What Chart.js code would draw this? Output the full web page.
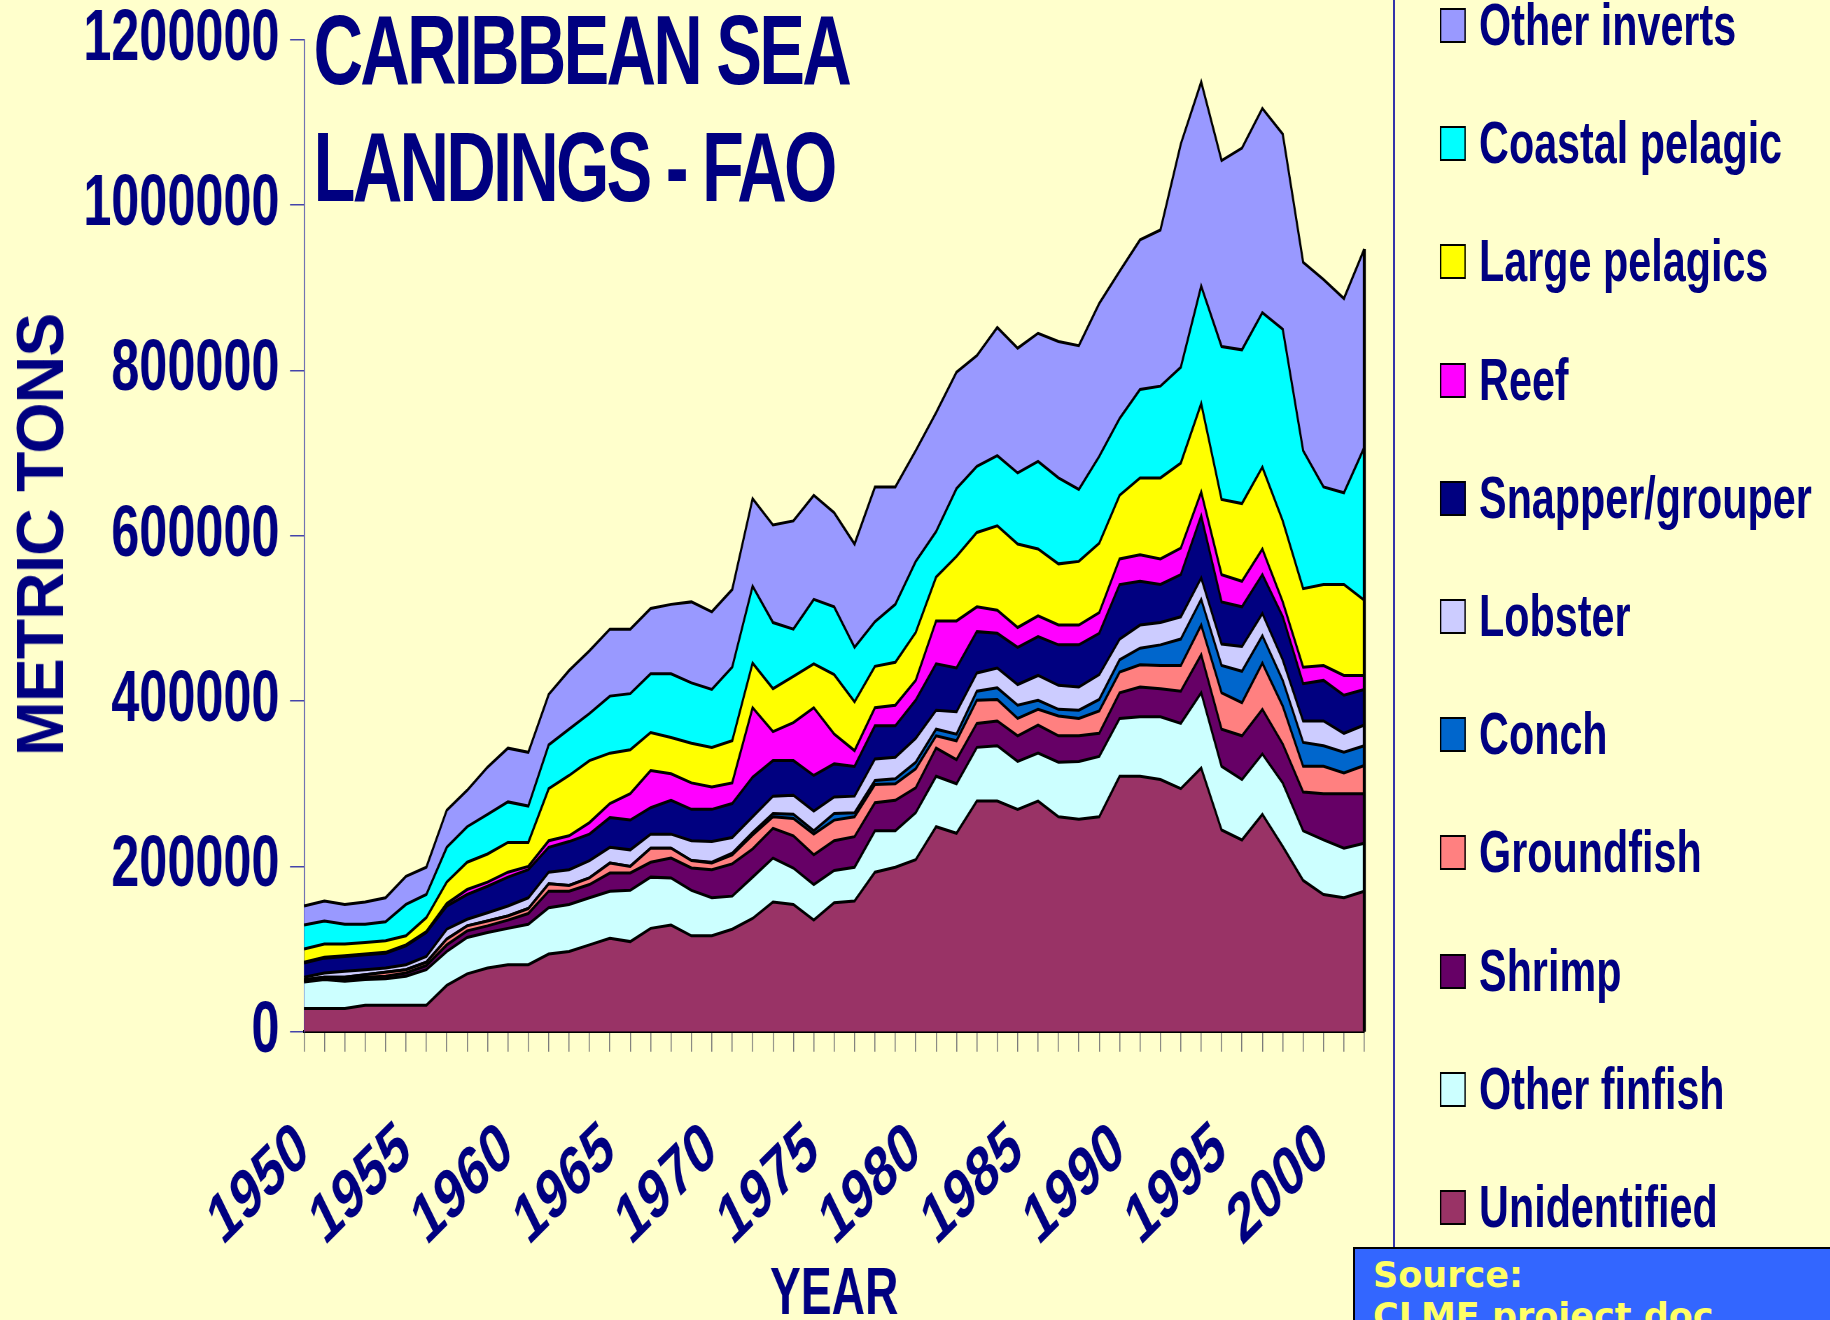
<!DOCTYPE html>
<html>
<head>
<meta charset="utf-8">
<title>Caribbean Sea landings - FAO</title>
<script src="https://cdn.jsdelivr.net/npm/chart.js@4.4.0/dist/chart.umd.min.js"></script>
<style>
  html, body { margin: 0; padding: 0; width: 1830px; height: 1320px; overflow: hidden; background: #ffffcc; }
  /* the original slide is squeezed sideways, so the chart is drawn wide and scaled down */
  #squeeze { position: absolute; left: 0; top: 0; width: 2614px; height: 1320px; transform: scaleX(0.7); transform-origin: 0 0; }
  #chart { position: absolute; left: 0; top: 0; }
  .title { position: absolute; left: 448px; font: bold 98px 'Liberation Sans', Arial, sans-serif; line-height: 1; letter-spacing: -4px; color: #000080; white-space: nowrap; }
  .leg { position: absolute; left: 2057px; height: 59px; font: bold 59px 'Liberation Sans', Arial, sans-serif; line-height: 59px; color: #000080; white-space: nowrap; }
  .leg .box { position: absolute; left: 0; top: 12px; width: 37px; height: 35px; border: 2px solid #000; box-sizing: border-box; }
  .leg .txt { position: absolute; left: 56px; top: 0; }
  #ytitle { position: absolute; left: 40px; top: 535px; transform: translate(-50%, -50%) rotate(-90deg); font: bold 66px 'Liberation Sans', Arial, sans-serif; line-height: 1; color: #000080; white-space: nowrap; letter-spacing: -1px; }
  #legline { position: absolute; left: 1393px; top: 0; width: 0; height: 1247px; border-left: 2px solid #3333aa; }
  #source { position: absolute; left: 1353px; top: 1247px; width: 520px; height: 110px; background: #3366ff; border: 2px solid #000; box-sizing: border-box; padding: 6px 0 0 18px; font: bold 35px 'DejaVu Sans', sans-serif; line-height: 41px; color: #ffff66; white-space: nowrap; }
</style>
</head>
<body>
<div id="squeeze">
  <canvas id="chart" width="2614" height="1320"></canvas>
  <div class="title" style="top:1px">CARIBBEAN SEA</div>
  <div class="title" style="top:118px">LANDINGS - FAO</div>
  <div id="legend"></div>
</div>
<div id="ytitle">METRIC TONS</div>
<div id="legline"></div>
<div id="source">Source:<br>CLME project doc</div>

<script>
const years = [1950,1951,1952,1953,1954,1955,1956,1957,1958,1959,
  1960,1961,1962,1963,1964,1965,1966,1967,1968,1969,
  1970,1971,1972,1973,1974,1975,1976,1977,1978,1979,
  1980,1981,1982,1983,1984,1985,1986,1987,1988,1989,
  1990,1991,1992,1993,1994,1995,1996,1997,1998,1999,
  2000,2001,2002];
const labelYears = [1950,1955,1960,1965,1970,1975,1980,1985,1990,1995,2000];

// metric tons, bottom layer first
const unidentified = [28000,28000,28000,32000,32000,32000,32000,56000,70000,77000,
  81000,81000,94000,97000,105000,113000,109000,125000,129000,116000,
  116000,124000,137000,157000,154000,135000,156000,158000,193000,199000,
  208000,248000,240000,279000,279000,269000,279000,260000,257000,260000,
  309000,309000,305000,294000,319000,244000,232000,263000,224000,183000,
  166000,162000,170000];
const otherFinfish = [32000,35000,33000,31000,32000,35000,43000,41000,44000,43000,
  44000,49000,56000,57000,57000,57000,62000,62000,57000,55000,
  46000,40000,50000,53000,44000,43000,39000,41000,50000,44000,
  57000,61000,60000,65000,67000,58000,58000,66000,70000,73000,
  70000,72000,76000,79000,91000,77000,73000,73000,77000,60000,
  66000,60000,58000];
const shrimp = [2000,2000,3000,3000,3000,4000,5000,8000,8000,8000,
  10000,13000,20000,16000,16000,22000,21000,18000,24000,27000,
  34000,39000,34000,36000,39000,36000,36000,37000,34000,37000,
  30000,34000,29000,29000,30000,31000,34000,32000,31000,28000,
  31000,36000,34000,39000,46000,45000,53000,54000,47000,47000,
  56000,66000,60000];
const groundfish = [1000,1000,2000,3000,5000,4000,4000,7000,6000,6000,
  5000,6000,9000,7000,8000,12000,8000,17000,12000,9000,
  8000,11000,17000,14000,21000,25000,25000,24000,22000,20000,
  23000,15000,23000,28000,26000,21000,19000,24000,21000,27000,
  25000,27000,28000,31000,36000,44000,40000,56000,46000,31000,
  33000,25000,34000];
const conch = [0,0,0,0,0,0,0,0,0,0,
  0,0,0,0,0,0,0,0,0,0,
  1000,2000,3000,4000,5000,4000,8000,5000,5000,6000,
  8000,8000,8000,11000,14000,16000,11000,8000,10000,14000,
  15000,20000,25000,32000,31000,33000,38000,33000,31000,29000,
  25000,25000,24000];
const lobster = [3000,5000,7000,6000,5000,6000,7000,12000,8000,10000,
  12000,13000,14000,19000,21000,19000,20000,17000,17000,24000,
  25000,19000,19000,21000,23000,24000,20000,20000,26000,26000,
  29000,23000,27000,22000,24000,25000,30000,29000,28000,30000,
  25000,28000,27000,27000,26000,26000,30000,27000,25000,26000,
  30000,23000,25000];
const snapperGrouper = [17000,18000,18000,18000,18000,23000,29000,28000,30000,32000,
  35000,34000,30000,34000,32000,36000,36000,32000,41000,38000,
  39000,41000,48000,43000,42000,43000,40000,36000,40000,38000,
  46000,56000,53000,50000,42000,45000,47000,49000,51000,50000,
  66000,53000,46000,51000,75000,51000,48000,47000,52000,45000,
  49000,46000,43000];
const reef = [1000,1000,1000,1000,1000,1000,1000,3000,6000,5000,
  6000,4000,8000,7000,14000,17000,32000,45000,32000,32000,
  27000,25000,84000,35000,46000,82000,36000,19000,22000,25000,
  24000,52000,57000,30000,28000,24000,25000,24000,24000,25000,
  31000,32000,31000,32000,29000,33000,31000,31000,18000,20000,
  18000,24000,17000];
const largePelagics = [16000,16000,14000,14000,14000,11000,17000,26000,33000,34000,
  36000,29000,63000,73000,75000,61000,53000,46000,44000,48000,
  48000,51000,54000,52000,56000,53000,72000,59000,50000,52000,
  58000,53000,78000,90000,102000,101000,81000,74000,77000,84000,
  77000,93000,98000,103000,107000,91000,94000,99000,98000,95000,
  98000,110000,91000];
const coastalPelagic = [29000,28000,24000,22000,23000,38000,28000,42000,43000,48000,
  49000,44000,53000,56000,57000,69000,68000,71000,77000,73000,
  70000,89000,93000,80000,57000,78000,82000,66000,54000,70000,
  86000,55000,82000,80000,85000,86000,106000,104000,87000,105000,
  93000,107000,111000,116000,142000,185000,186000,187000,232000,167000,
  118000,111000,185000];
const otherInverts = [23000,24000,24000,27000,29000,34000,33000,45000,44000,57000,
  65000,65000,61000,71000,76000,81000,78000,79000,84000,98000,
  94000,94000,106000,118000,131000,126000,114000,125000,163000,142000,
  134000,144000,141000,134000,155000,151000,155000,165000,174000,185000,
  178000,181000,189000,270000,247000,225000,244000,247000,236000,228000,
  251000,235000,240000];

const series = [
  { name: 'Unidentified',    data: unidentified,   color: '#993366' },
  { name: 'Other finfish',   data: otherFinfish,   color: '#ccffff' },
  { name: 'Shrimp',          data: shrimp,         color: '#660066' },
  { name: 'Groundfish',      data: groundfish,     color: '#ff8080' },
  { name: 'Conch',           data: conch,          color: '#0066cc' },
  { name: 'Lobster',         data: lobster,        color: '#ccccff' },
  { name: 'Snapper/grouper', data: snapperGrouper, color: '#000080' },
  { name: 'Reef',            data: reef,           color: '#ff00ff' },
  { name: 'Large pelagics',  data: largePelagics,  color: '#ffff00' },
  { name: 'Coastal pelagic', data: coastalPelagic, color: '#00ffff' },
  { name: 'Other inverts',   data: otherInverts,   color: '#9999ff' }
];

// legend column, top item = top layer
const legendTops = [25, 143, 261, 380, 498, 616, 734, 852, 971, 1089, 1207];
const legendEl = document.getElementById('legend');
series.slice().reverse().forEach((s, i) => {
  const item = document.createElement('div');
  item.className = 'leg';
  item.style.top = (legendTops[i] - 29) + 'px';
  item.innerHTML = '<span class="box" style="background:' + s.color + '"></span><span class="txt">' + s.name + '</span>';
  legendEl.appendChild(item);
});

Chart.defaults.font.family = "'Liberation Sans', Arial, sans-serif";
Chart.defaults.font.weight = 'bold';

// closes the stacked area on the right edge like the original
const rightEdge = {
  id: 'rightEdge',
  afterDatasetsDraw(chart) {
    const meta = chart.getDatasetMeta(chart.data.datasets.length - 1);
    const last = meta.data[meta.data.length - 1];
    const ctx = chart.ctx;
    ctx.save();
    ctx.strokeStyle = '#000';
    ctx.lineWidth = 4.3;
    ctx.beginPath();
    ctx.moveTo(last.x, last.y);
    ctx.lineTo(last.x, chart.scales.y.getPixelForValue(0));
    ctx.stroke();
    ctx.restore();
  }
};

new Chart(document.getElementById('chart'), {
  type: 'line',
  data: {
    labels: years,
    datasets: series.map((s, i) => ({
      label: s.name,
      data: s.data,
      backgroundColor: s.color,
      borderColor: '#000',
      borderWidth: 3,
      fill: i === 0 ? 'origin' : '-1',
      pointRadius: 0,
      tension: 0
    }))
  },
  options: {
    responsive: false,
    animation: false,
    layout: { padding: { left: 104, right: 665, top: 0, bottom: 0 } },
    plugins: { legend: { display: false }, tooltip: { enabled: false } },
    scales: {
      x: {
        grid: { drawOnChartArea: false, drawTicks: true, tickLength: 20, color: '#777777', lineWidth: 1.5 },
        border: { color: '#000', width: 3 },
        ticks: {
          autoSkip: false, minRotation: 35, maxRotation: 35, padding: 55,
          color: '#000080', font: { size: 70, weight: 'bold' },
          callback: (v, i) => labelYears.includes(years[i]) ? String(years[i]) : ''
        },
        title: { display: true, text: 'YEAR', color: '#000080', padding: { top: -48, bottom: 0 }, font: { size: 66, weight: 'bold', lineHeight: 0.73 } }
      },
      y: {
        stacked: true, min: 0, max: 1200000,
        grid: { drawOnChartArea: false, drawTicks: true, tickLength: 20, color: '#4444aa', lineWidth: 1.5 },
        border: { color: '#4444aa', width: 1.5 },
        ticks: { stepSize: 200000, padding: 15, color: '#000080', font: { size: 72, weight: 'bold', lineHeight: 0.69 }, callback: v => String(v) }
      }
    }
  },
  plugins: [rightEdge]
});
</script>
</body>
</html>
